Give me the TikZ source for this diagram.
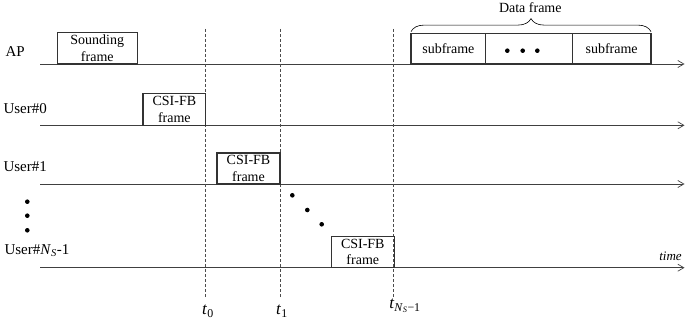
\documentclass[tikz,border=0pt]{standalone}
\usepackage{fontspec}
\setmainfont{Liberation Serif}
\usepackage{tikz}
\usetikzlibrary{positioning,arrows.meta,decorations.pathreplacing}

\begin{document}
\begin{tikzpicture}[x=1pt, y=-1pt, font=\fontsize{14}{16.6}\selectfont]
  \tikzset{
    lane/.style={draw=black!75, line width=0.7pt, -{Straight Barb[length=6pt,width=7pt]}},
    frm/.style={draw=black!80, line width=1.1pt, inner sep=0pt, outer sep=0pt, align=center, anchor=south west},
    tline/.style={draw=black!70, line width=0.7pt, dash pattern=on 3pt off 2pt},
    who/.style={anchor=west, font=\fontsize{15}{18}\selectfont},
    tlab/.style={font=\fontsize{17}{20}\selectfont}
  }
  \useasboundingbox (0,0) rectangle (685,323);
  % time lines, one per station
  \foreach \n/\y in {ap/64, u0/125.3, u1/184, un/267.7} {
    \coordinate (\n-s) at (40,\y);
    \coordinate (\n-e) at (684.5,\y);
    \draw[lane] (\n-s) -- (\n-e);
  }
  % station names
  \node[who] (lap) at (2,52) {AP};
  \node[who] (lu0) at (0,109) {User\#0};
  \node[who] (lu1) at (0,167) {User\#1};
  \node[who] (lun) at (1,250.7) {User\#\textit{N}\textsubscript{\textit{S}}-1};
  \foreach \y in {201.7,215.7,230.3} \fill (27.3,\y) circle (2.3pt);
  % instants
  \foreach \n/\x in {v0/205.7, v1/280, vn/393.3} {
    \coordinate (\n-top) at (\x,29);
    \coordinate (\n-bot) at (\x,297);
    \draw[tline] (\n-top) -- (\n-bot);
  }
  \node[tlab] (t0) at (208,311) {\textit{t}\textsubscript{0}};
  \node[tlab] (t1) at (282,311) {\textit{t}\textsubscript{1}};
  \node[tlab] (tn) at (405,306) {\textit{t}\textsubscript{\textit{N}\textsubscript{\textit{S}}−1}};
  % sounding and feedback frames
  \node[frm, minimum width=80pt, minimum height=31.7pt] (snd) at (57.3,64) {Sounding\\frame};
  \node[frm, minimum width=62.7pt, minimum height=31.6pt] (fb0) at (143,125.3) {CSI-FB\\frame};
  \node[frm, minimum width=63pt, minimum height=31pt] (fb1) at (217,184) {CSI-FB\\frame};
  \node[frm, minimum width=63pt, minimum height=31.4pt] (fbn) at (331.3,267.7) {CSI-FB\\frame};
  \foreach \x/\y in {292.3/195.3, 307.3/210, 321.7/224.3} \fill (\x,\y) circle (2.3pt);
  % data frame
  \node[frm, minimum width=74.7pt, minimum height=30.9pt] (sf1) at (411,64) {subframe};
  \node[frm, minimum width=86.6pt, minimum height=30.9pt, right=0pt of sf1] (sfm) {};
  \node[frm, minimum width=78.7pt, minimum height=30.9pt, right=0pt of sfm] (sf2) {subframe};
  \foreach \x in {507.3,522.7,537.3} \fill (\x,50.7) circle (2.3pt);
  \draw[decorate, decoration={brace, amplitude=13pt}, line width=0.6pt]
    ([yshift=1.5pt]sf1.north west) -- ([yshift=1.5pt]sf2.north east);
  \node (dfl) at (530.3,7.5) {Data frame};
  \node[font=\fontsize{13}{15}\selectfont\itshape] (tm) at (670.5,256.5) {time};
\end{tikzpicture}
\end{document}
